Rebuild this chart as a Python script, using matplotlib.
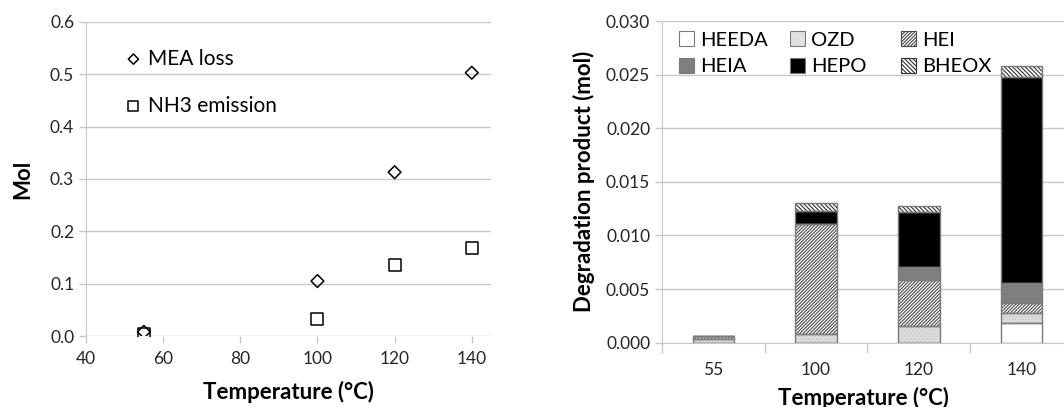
import matplotlib
matplotlib.use("Agg")
import matplotlib.pyplot as plt
import numpy as np
from matplotlib.patches import Patch

plt.rcParams['font.family'] = ['Lato', 'DejaVu Sans']
plt.rcParams['hatch.linewidth'] = 0.8

# ---- Data: left chart ----
temps = [55, 100, 120, 140]
mea_loss = [0.008, 0.105, 0.313, 0.503]
nh3_emission = [0.003, 0.033, 0.135, 0.168]

# ---- Data: right chart ----
categories = ['55', '100', '120', '140']
products = ['HEEDA', 'OZD', 'HEI', 'HEIA', 'HEPO', 'BHEOX']
heeda = [0.0, 0.0, 0.0, 0.00184]
ozd = [0.0003, 0.0008, 0.00152, 0.00096]
hei = [0.00033, 0.0103, 0.0043, 0.00087]
heia = [0.0, 0.0, 0.0012, 0.0019]
hepo = [0.0, 0.0012, 0.0052, 0.0192]
bheox = [0.0, 0.0007, 0.0005, 0.001]

grid_c = '#c8c8c8'
text_c = '#262626'
tick_fs = 12.5
label_fs = 16
legend_fs = 15

fig = plt.figure(figsize=(10.64, 4.07), dpi=100)

# ---------------- Left chart ----------------
ax1 = fig.add_axes([0.0808, 0.1744, 0.3807, 0.7716])
ax1.scatter(temps, mea_loss, marker='D', s=42, facecolors='none',
            edgecolors='black', linewidths=1.1, label='MEA loss', zorder=4)
ax1.scatter(temps, nh3_emission, marker='s', s=80, facecolors='white',
            edgecolors='black', linewidths=1.1, label='NH3 emission', zorder=3)
ax1.set_xlim(40, 145)
ax1.set_ylim(0, 0.6)
ax1.set_xticks([40, 60, 80, 100, 120, 140])
yt = np.arange(0, 0.61, 0.1)
ax1.set_yticks(yt)
ax1.set_yticklabels([f'{v:.1f}' for v in yt])
ax1.yaxis.grid(True, color=grid_c, linewidth=1)
ax1.set_axisbelow(True)
for s in ['top', 'right', 'bottom']:
    ax1.spines[s].set_visible(False)
ax1.spines['left'].set_color(grid_c)
ax1.tick_params(axis='both', colors=grid_c, labelcolor=text_c, labelsize=tick_fs,
                length=5, width=1)
ax1.tick_params(axis='x', pad=6)
ax1.set_xlabel('Temperature (°C)', fontsize=label_fs, fontweight='bold', labelpad=10, color='black')
ax1.set_ylabel('Mol', fontsize=label_fs, fontweight='bold', labelpad=12, color='black')
ax1.legend(loc='upper left', bbox_to_anchor=(0.04, 0.975), frameon=False,
           fontsize=legend_fs, labelspacing=1.3, handletextpad=0.1,
           markerscale=0.8, handlelength=1.2)

# ---------------- Right chart ----------------
ax2 = fig.add_axes([0.6222, 0.1580, 0.3778, 0.7904])
x = np.arange(len(categories))
width = 0.405
series = [heeda, ozd, hei, heia, hepo, bheox]
faces = ['white', '#e0e0e0', 'white', '#7f7f7f', 'black', 'white']
hatches = [None, '......', '//////////', None, None, '\\\\\\\\\\\\\\\\']
hatch_cols = ['#7a7a7a', '#c4c4c4', '#4a4a4a', '#7a7a7a', '#7a7a7a', '#303030']
bottom = np.zeros(len(categories))
handles = []
for name, vals, fc, h, hc in zip(products, series, faces, hatches, hatch_cols):
    vals = np.array(vals)
    ax2.bar(x, vals, width, bottom=bottom, color=fc, hatch=h,
            edgecolor=hc, linewidth=0.0, zorder=2)
    ax2.bar(x, vals, width, bottom=bottom, fill=False, edgecolor='#7a7a7a',
            linewidth=1.0, zorder=3)
    handles.append(Patch(facecolor=fc, hatch=h if name != 'OZD' else None,
                         edgecolor=hc if (h and name != 'OZD') else '#7a7a7a',
                         linewidth=0.8, label=name))
    bottom += vals

ax2.set_xlim(-0.5, 3.414)
ax2.set_ylim(0, 0.030)
yt2 = np.arange(0, 0.0301, 0.005)
ax2.set_yticks(yt2)
ax2.set_yticklabels([f'{v:.3f}' for v in yt2])
ax2.set_xticks(x)
ax2.set_xticklabels(categories)
ax2.set_xticks(np.arange(-0.5, 3.4, 1.0), minor=True)
ax2.tick_params(axis='x', which='major', length=0, pad=14, labelcolor=text_c, labelsize=tick_fs)
ax2.tick_params(axis='x', which='minor', length=7, color=grid_c, width=1)
ax2.tick_params(axis='y', colors=grid_c, labelcolor=text_c, labelsize=tick_fs, length=5, width=1)
ax2.yaxis.grid(True, color=grid_c, linewidth=1)
ax2.set_axisbelow(True)
for s in ['top', 'right']:
    ax2.spines[s].set_visible(False)
ax2.spines['left'].set_color(grid_c)
ax2.spines['bottom'].set_color(grid_c)
ax2.set_xlabel('Temperature (°C)', fontsize=label_fs, fontweight='bold', labelpad=6, color='black')
ax2.set_ylabel('Degradation product (mol)', fontsize=label_fs, fontweight='bold', labelpad=8, color='black')

# Legend laid out as three equal-width columns (row-wise order as in reference)
cols = [[0, 3], [1, 4], [2, 5]]
ax_w_px = 0.3778 * 1064
col_x0 = 683 - 662  # first marker centre, px from axis left
col_step = 110.7
for ci, idx in enumerate(cols):
    leg = ax2.legend([handles[i] for i in idx], [products[i] for i in idx],
                     loc='upper left',
                     bbox_to_anchor=((col_x0 + ci * col_step - 20) / ax_w_px, 1.018),
                     frameon=False, fontsize=14.5, handlelength=0.75,
                     handleheight=0.75, handletextpad=0.3, labelspacing=0.45,
                     borderpad=0.3)
    if ci < 2:
        ax2.add_artist(leg)

fig.savefig('out.png', dpi=100)
